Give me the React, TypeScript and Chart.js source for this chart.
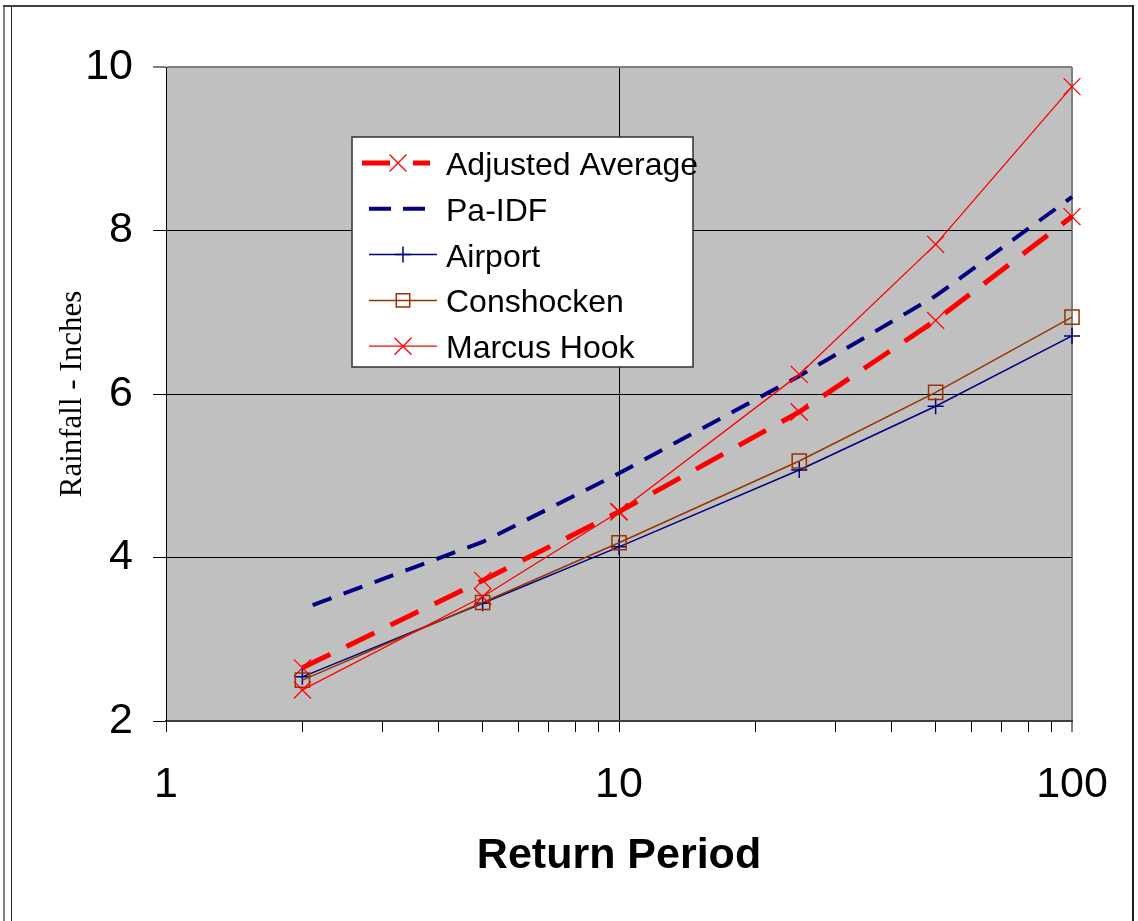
import React, { useEffect, useRef } from 'react';
import { Chart, registerables } from 'chart.js';

Chart.register(...registerables);

// ---- Data ----
const returnPeriods = [2, 5, 10, 25, 50, 100];
const adjustedAverage = [2.65, 3.72, 4.56, 5.78, 6.9, 8.17];
const paIdf = [3.37, 4.19, 5.03, 6.22, 7.2, 8.41];
const airport = [2.54, 3.44, 4.13, 5.07, 5.85, 6.71];
const conshocken = [2.5, 3.45, 4.18, 5.18, 6.02, 6.94];
const marcusHook = [2.38, 3.52, 4.56, 6.24, 7.83, 9.76];

const seriesLabels = ['Adjusted Average', 'Pa-IDF', 'Airport', 'Conshocken', 'Marcus Hook'];
const xTickValues = [1, 2, 3, 4, 5, 6, 7, 8, 9, 10, 20, 30, 40, 50, 60, 70, 80, 90, 100];
const xLabeledTicks = [1, 10, 100];
const yMin = 2;
const yMax = 10;
const yStep = 2;
const xTitle = 'Return Period';
const yTitle = 'Rainfall - Inches';

const SANS = "'Liberation Sans', Arial, sans-serif";
const SERIF = "'Liberation Serif', 'Times New Roman', serif";

const toPoints = (ys: number[]) => returnPeriods.map((x, i) => ({ x, y: ys[i] }));

const plotBackground = {
  id: 'plotBackground',
  beforeDraw(chart: any) {
    const { ctx, chartArea } = chart;
    ctx.save();
    ctx.fillStyle = '#C0C0C0';
    ctx.fillRect(chartArea.left, chartArea.top, chartArea.right - chartArea.left, chartArea.bottom - chartArea.top);
    ctx.restore();
  },
};

function drawMarker(ctx: CanvasRenderingContext2D, style: string, x: number, y: number, r: number) {
  ctx.beginPath();
  if (style === 'cross') {
    ctx.moveTo(x - r, y);
    ctx.lineTo(x + r, y);
    ctx.moveTo(x, y - r);
    ctx.lineTo(x, y + r);
  } else if (style === 'crossRot') {
    const d = r * Math.SQRT1_2;
    ctx.moveTo(x - d, y - d);
    ctx.lineTo(x + d, y + d);
    ctx.moveTo(x - d, y + d);
    ctx.lineTo(x + d, y - d);
  } else if (style === 'rect') {
    const s = r * Math.SQRT1_2;
    ctx.rect(x - s, y - s, 2 * s, 2 * s);
  }
  ctx.stroke();
}

const boxLegend = {
  id: 'boxLegend',
  afterDraw(chart: any) {
    const { ctx } = chart;
    const box = { left: 352, top: 137, width: 341, height: 230 };
    ctx.save();
    ctx.fillStyle = '#FFFFFF';
    ctx.fillRect(box.left, box.top, box.width, box.height);
    ctx.strokeStyle = '#303030';
    ctx.lineWidth = 1.5;
    ctx.strokeRect(box.left, box.top, box.width, box.height);
    const datasets = chart.data.datasets;
    datasets.forEach((ds: any, i: number) => {
      const baseline = 175 + i * 45.8;
      const symY = baseline - 12;
      const thick = ds.borderWidth >= 3;
      const x0 = i === 0 ? 362 : 369;
      const x1 = i === 0 ? 430 : thick ? 425 : 437;
      ctx.save();
      ctx.strokeStyle = ds.borderColor;
      ctx.lineWidth = ds.borderWidth;
      ctx.setLineDash(ds.borderDash ? (i === 1 ? [22, 12] : [28, 23]) : []);
      ctx.beginPath();
      ctx.moveTo(x0, symY);
      ctx.lineTo(x1, symY);
      ctx.stroke();
      ctx.restore();
      if (ds.pointRadius > 0) {
        ctx.save();
        ctx.strokeStyle = ds.pointBorderColor || ds.borderColor;
        ctx.lineWidth = ds.pointBorderWidth || 1;
        ctx.setLineDash([]);
        const mx = thick ? 398 : 403;
        const r = ds.pointStyle === 'rect' ? 9.5 : ds.pointRadius;
        drawMarker(ctx, ds.pointStyle, mx, symY, r);
        ctx.restore();
      }
      ctx.fillStyle = '#000000';
      ctx.font = `32px ${SANS}`;
      ctx.textAlign = 'left';
      ctx.textBaseline = 'alphabetic';
      ctx.fillText(ds.label, 446, baseline);
    });
    ctx.restore();
  },
};

export default function App() {
  const ref = useRef<HTMLCanvasElement>(null);

  useEffect(() => {
    if (!ref.current) return;
    const chart = new Chart(ref.current, {
      type: 'line',
      data: {
        datasets: [
          {
            label: seriesLabels[0],
            data: toPoints(adjustedAverage),
            borderColor: '#FF0000',
            borderWidth: 5,
            borderDash: [31, 18],
            pointStyle: 'crossRot',
            pointRadius: 12,
            pointBorderWidth: 1.3,
            pointBorderColor: '#FF0000',
            order: 5,
          },
          {
            label: seriesLabels[1],
            data: toPoints(paIdf),
            borderColor: '#000080',
            borderWidth: 4,
            borderDash: [20, 13],
            borderDashOffset: 22,
            pointRadius: 0,
            order: 4,
          },
          {
            label: seriesLabels[2],
            data: toPoints(airport),
            borderColor: '#000080',
            borderWidth: 1.5,
            pointStyle: 'cross',
            pointRadius: 8,
            pointBorderWidth: 1.5,
            pointBorderColor: '#000080',
            order: 3,
          },
          {
            label: seriesLabels[3],
            data: toPoints(conshocken),
            borderColor: '#993300',
            borderWidth: 1.5,
            pointStyle: 'rect',
            pointRadius: 10,
            pointBorderWidth: 1.5,
            pointBorderColor: '#993300',
            pointBackgroundColor: 'rgba(0,0,0,0)',
            order: 2,
          },
          {
            label: seriesLabels[4],
            data: toPoints(marcusHook),
            borderColor: '#FF0000',
            borderWidth: 1.3,
            pointStyle: 'crossRot',
            pointRadius: 12,
            pointBorderWidth: 1.3,
            pointBorderColor: '#FF0000',
            order: 1,
          },
        ] as any,
      },
      options: {
        responsive: false,
        animation: false,
        events: [],
        clip: false as any,
        layout: { padding: { top: 67, right: 66, left: 0, bottom: 0 } },
        elements: { line: { tension: 0 } },
        plugins: {
          legend: { display: false },
          tooltip: { enabled: false },
        },
        scales: {
          x: {
            type: 'logarithmic',
            min: 1,
            max: 100,
            afterBuildTicks: (scale: any) => {
              scale.ticks = xTickValues.map((v) => ({ value: v, major: false }));
            },
            afterFit: (scale: any) => {
              scale.height = 200;
            },
            border: { display: true, color: '#404040', width: 2 },
            grid: {
              drawOnChartArea: true,
              drawTicks: true,
              tickLength: 11,
              tickColor: '#000000',
              tickWidth: 1,
              color: (c: any) => {
                const v = c.tick ? c.tick.value : null;
                if (v === 10) return '#000000';
                if (v === 100) return '#808080';
                return 'rgba(0,0,0,0)';
              },
              lineWidth: (c: any) => (c.tick && c.tick.value === 100 ? 2 : 1),
            },
            ticks: {
              autoSkip: false,
              maxRotation: 0,
              minRotation: 0,
              padding: 27,
              color: '#000000',
              font: { family: SANS, size: 43 },
              callback: (v: any) => (xLabeledTicks.includes(Number(v)) ? String(v) : ''),
            },
            title: {
              display: true,
              text: xTitle,
              color: '#000000',
              font: { family: SANS, size: 43, weight: 'bold' },
              padding: { top: 0, bottom: 39 },
            },
          },
          y: {
            type: 'linear',
            min: yMin,
            max: yMax,
            afterFit: (scale: any) => {
              scale.width = 166;
            },
            border: { display: true, color: '#000000', width: 1 },
            grid: {
              drawOnChartArea: true,
              drawTicks: true,
              tickLength: 13,
              tickColor: '#000000',
              tickWidth: 1,
              color: (c: any) => {
                const v = c.tick ? c.tick.value : null;
                if (v === yMax) return '#808080';
                if (v === yMin) return 'rgba(0,0,0,0)';
                return '#000000';
              },
              lineWidth: (c: any) => (c.tick && c.tick.value === yMax ? 2 : 1),
            },
            ticks: {
              stepSize: yStep,
              padding: 20,
              color: '#000000',
              font: { family: SANS, size: 43 },
            },
            title: {
              display: true,
              text: yTitle,
              color: '#000000',
              font: { family: SERIF, size: 31 },
              padding: { top: 54, bottom: 0 },
            },
          },
        },
      } as any,
      plugins: [plotBackground, boxLegend],
    });
    return () => chart.destroy();
  }, []);

  return (
    <div
      style={{
        position: 'fixed',
        left: 0,
        top: 0,
        width: 1138,
        height: 921,
        background: '#FFFFFF',
        overflow: 'hidden',
      }}
    >
      <canvas
        ref={ref}
        width={1138}
        height={921}
        style={{ position: 'absolute', left: 0, top: 0, width: 1138, height: 921 }}
      />
      <div style={{ position: 'absolute', left: 3, top: 5, width: 2, height: 916, background: '#808080' }} />
      <div style={{ position: 'absolute', left: 11, top: 5, width: 1, height: 916, background: '#202020' }} />
      <div style={{ position: 'absolute', left: 3, top: 5, width: 1131, height: 2, background: '#404040' }} />
      <div style={{ position: 'absolute', left: 1132, top: 5, width: 2, height: 916, background: '#202020' }} />
    </div>
  );
}
